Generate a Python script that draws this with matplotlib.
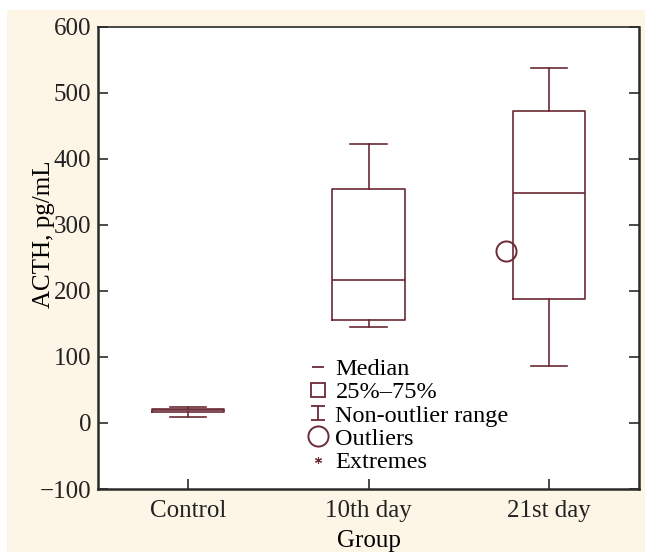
import matplotlib
matplotlib.use("Agg")
import matplotlib.pyplot as plt
from matplotlib.lines import Line2D
from matplotlib.patches import Rectangle
from matplotlib.path import Path

# values (pg/mL)
groups = ["Control", "10th day", "21st day"]
whis_lo = [9.5, 145, 86]
q1 = [16.6, 156, 187]
medians = [19.5, 216, 348]
q3 = [21.5, 354, 473]
whis_hi = [24, 423, 538]
outlier_group = [2]
outlier_value = [260]

box_color = "#6b2a35"
cream = "#fdf6e6"

plt.rcParams["font.family"] = ["Liberation Serif", "DejaVu Serif"]
plt.rcParams["font.size"] = 18

fig = plt.figure(figsize=(6.45, 5.52), dpi=100, facecolor="white")
fig.patches.append(Rectangle((7 / 645, 0), 1, 542 / 552, transform=fig.transFigure,
                             facecolor=cream, edgecolor="none", zorder=-5))
ax = fig.add_axes([98 / 645, 63 / 552, 541 / 645, 462.3 / 552])
ax.set_facecolor("white")

stats = []
for i, g in enumerate(groups):
    stats.append(dict(label=g, whislo=whis_lo[i], q1=q1[i], med=medians[i],
                      q3=q3[i], whishi=whis_hi[i], fliers=[]))

lp = dict(color=box_color, linewidth=1.2)
ax.bxp(stats, positions=range(len(groups)), widths=0.4, capwidths=0.2,
       showfliers=False, boxprops=lp, whiskerprops=lp, capprops=lp,
       medianprops=lp)

# outlier sits to the left of its box
ax.plot([g - 0.24 for g in outlier_group], outlier_value, linestyle="none",
        marker="o", markersize=14.5, markerfacecolor="none",
        markeredgecolor=box_color, markeredgewidth=1.4)

ax.set_xlim(-0.5, 2.5)
ax.set_ylim(-100, 600)
ax.set_yticks(range(-100, 601, 100))
ax.set_xticks(range(len(groups)))
ax.set_xticklabels(groups)
ax.set_xlabel("Group", labelpad=6)
ax.set_ylabel("ACTH, pg/mL")
ax.yaxis.set_label_coords(-0.08, 0.55)

for s in ax.spines.values():
    s.set_linewidth(1.8)
    s.set_color("#2b2b2b")
ax.spines["top"].set_linewidth(1.2)
ax.tick_params(axis="both", direction="in", length=7, width=1.2, color="#2b2b2b",
               labelcolor="#222222")
ax.tick_params(axis="x", pad=8)
ax.tick_params(axis="y", pad=5, right=True)

# legend
ibeam = Path([(-1, -1), (1, -1), (0, -1), (0, 1), (-1, 1), (1, 1)],
             [Path.MOVETO, Path.LINETO, Path.MOVETO, Path.LINETO, Path.MOVETO, Path.LINETO])
handles = [
    Line2D([], [], linestyle="none", marker="_", markersize=8, markeredgewidth=1.3, color=box_color),
    Line2D([], [], linestyle="none", marker="s", markersize=10, markerfacecolor="none",
           markeredgewidth=1.3, color=box_color),
    Line2D([], [], linestyle="none", marker=ibeam, markersize=10, markeredgewidth=1.3, color=box_color),
    Line2D([], [], linestyle="none", marker="o", markersize=14.5, markerfacecolor="none",
           markeredgewidth=1.4, color=box_color),
    Line2D([], [], linestyle="none", marker=(6, 2, 0), markersize=5, markeredgewidth=0.8, color=box_color),
]
labels = ["Median", "25%\u201375%", "Non-outlier range", "Outliers", "Extremes"]
ax.legend(handles, labels, loc="upper left", bbox_to_anchor=(0.385, 0.283),
          frameon=False, handlelength=1.0, handletextpad=0.2, borderpad=0,
          labelspacing=0.05, borderaxespad=0, fontsize=17.5)

plt.savefig("out.png", dpi=100)
